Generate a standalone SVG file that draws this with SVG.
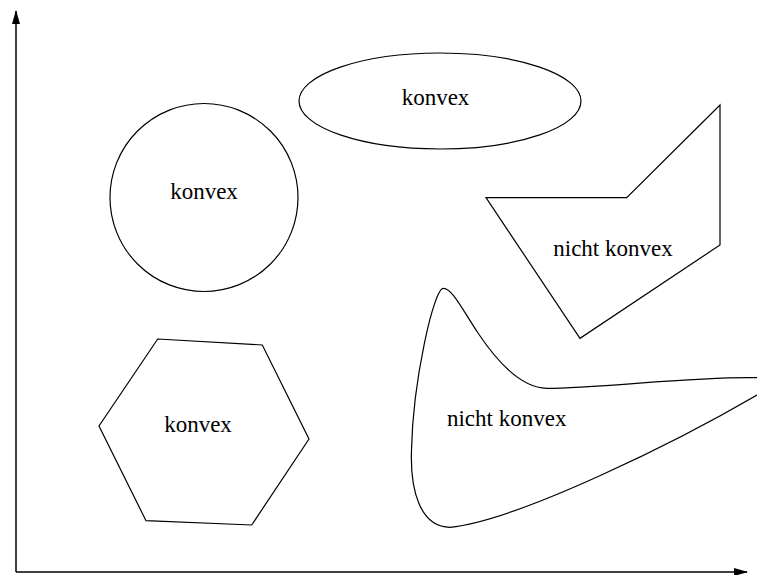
<svg xmlns="http://www.w3.org/2000/svg" width="757" height="575" viewBox="0 0 757 575">
<style>
.shape{fill:none;stroke:#000;stroke-width:1.2}
.lbl{font-family:"Liberation Serif","Times New Roman",serif;font-size:23px;fill:#000;text-anchor:middle}
.axis{stroke:#000;stroke-width:1.5;fill:none}
</style>
<defs>
<marker id="arr" viewBox="0 0 14 8" refX="13" refY="4" markerWidth="14" markerHeight="8" markerUnits="userSpaceOnUse" orient="auto">
<path d="M0,0 L14,4 L0,8 Z" fill="#000"/>
</marker>
</defs>
<rect width="757" height="575" fill="#fff"/>
<g id="connectors">
<line class="axis" x1="16" y1="572" x2="16" y2="11" marker-end="url(#arr)"/>
<line class="axis" x1="16" y1="572" x2="747" y2="572" marker-end="url(#arr)"/>
</g>
<g id="ellipse">
<ellipse class="shape" cx="440" cy="101" rx="141" ry="48"/>
<text class="lbl" x="435.5" y="105">konvex</text>
</g>
<g id="circle">
<circle class="shape" cx="204" cy="197.5" r="94"/>
<text class="lbl" x="204" y="199">konvex</text>
</g>
<g id="hexagon">
<polygon class="shape" points="157.7,339 262.3,345 309,439 251.7,525 146,520.7 99,426"/>
<text class="lbl" x="198" y="432">konvex</text>
</g>
<g id="polygon">
<polygon class="shape" points="486,197.7 626.7,197.7 720,105 720,245 580,338.3"/>
<text class="lbl" x="613" y="255.5">nicht konvex</text>
</g>
<g id="blob">
<path class="shape" d="M 450 527.3 C 520 520 680 440 757 395 L 775 385 L 775 377.5 L 757 377.7 C 700 376 600 388 546.7 388.3 C 520 388 496 360 478 333 C 462 309 452 288 443.3 288.3 C 434 288 413 380 411.5 450 C 410 490 420 527 450 527.3 Z"/>
<text class="lbl" x="506.7" y="425.5">nicht konvex</text>
</g>
</svg>
